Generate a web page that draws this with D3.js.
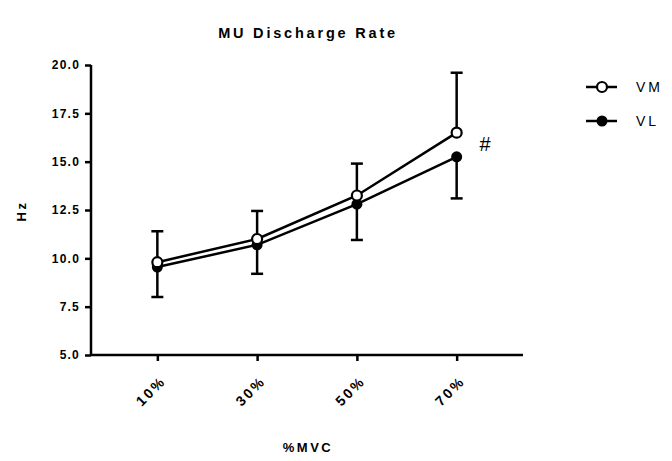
<!DOCTYPE html>
<html>
<head>
<meta charset="utf-8">
<script src="https://cdn.jsdelivr.net/npm/d3@7"></script>
<style>
  body { margin: 0; background: #fff; }
  text { font-family: "Liberation Sans", Arial, sans-serif; }
</style>
</head>
<body>
<script>
const categories = ["10%", "30%", "50%", "70%"];
const vmMean = [9.8, 11.0, 13.25, 16.5];
const vmUpper = [11.4, 12.45, 14.9, 19.6];
const vlMean = [9.55, 10.7, 12.8, 15.25];
const vlLower = [8.0, 9.2, 10.95, 13.1];
const yTicks = [5, 7.5, 10, 12.5, 15, 17.5, 20];

let width = 672, height = 461;

const svg = d3.select("body").append("svg")
    .attr("width", width)
    .attr("height", height);

const x = d3.scalePoint()
    .domain(categories)
    .range([91, 523])
    .padding(0.665);

const y = d3.scaleLinear()
    .domain([5, 20])
    .range([355, 65]);

// axes
const yAxis = d3.axisLeft(y).tickValues(yTicks).tickFormat(d3.format(".1f")).tickSize(6).tickSizeOuter(0);
const xAxis = d3.axisBottom(x).tickSize(6).tickSizeOuter(0);

const gy = svg.append("g")
    .attr("transform", "translate(91,0)")
    .call(yAxis);
gy.select(".domain").attr("stroke-width", 2.5).attr("d", "M0," + y(5) + "V" + y(20));
gy.selectAll(".tick line").attr("stroke-width", 2.5);
gy.selectAll(".tick text")
    .attr("x", -11)
    .attr("font-size", "12px")
    .attr("font-weight", "bold")
    .attr("letter-spacing", "1.2px")
    .attr("fill", "#000");

const gx = svg.append("g")
    .attr("transform", "translate(0,355)")
    .call(xAxis);
gx.select(".domain").attr("stroke-width", 2.5).attr("d", "M91,0H523");
gx.selectAll(".tick line").attr("stroke-width", 2.5);
gx.selectAll(".tick text")
    .attr("font-size", "14px")
    .attr("font-weight", "bold")
    .attr("letter-spacing", "2.5px")
    .attr("fill", "#000")
    .attr("text-anchor", "end")
    .attr("dy", null)
    .attr("y", null)
    .attr("transform", "translate(9,27) rotate(-45)");

// error bars: VM up, VL down
const capW = 6;
function errBar(cat, from, to) {
    const cx = x(cat);
    svg.append("line").attr("x1", cx).attr("x2", cx).attr("y1", y(from)).attr("y2", y(to))
        .attr("stroke", "#000").attr("stroke-width", 2.5);
    svg.append("line").attr("x1", cx - capW).attr("x2", cx + capW).attr("y1", y(to)).attr("y2", y(to))
        .attr("stroke", "#000").attr("stroke-width", 2.5);
}
categories.forEach((c, i) => {
    errBar(c, vmMean[i], vmUpper[i]);
    errBar(c, vlMean[i], vlLower[i]);
});

const line = d3.line().x(d => x(d[0])).y(d => y(d[1]));

const vl = categories.map((c, i) => [c, vlMean[i]]);
const vm = categories.map((c, i) => [c, vmMean[i]]);

svg.append("path").datum(vl).attr("d", line)
    .attr("fill", "none").attr("stroke", "#000").attr("stroke-width", 2.5);
svg.append("path").datum(vm).attr("d", line)
    .attr("fill", "none").attr("stroke", "#000").attr("stroke-width", 2.5);

svg.selectAll(".vl").data(vl).enter().append("circle")
    .attr("cx", d => x(d[0])).attr("cy", d => y(d[1])).attr("r", 5.5)
    .attr("fill", "#000");
svg.selectAll(".vm").data(vm).enter().append("circle")
    .attr("cx", d => x(d[0])).attr("cy", d => y(d[1])).attr("r", 5)
    .attr("fill", "#fff").attr("stroke", "#000").attr("stroke-width", 2.2);

// significance marker
svg.append("text")
    .attr("x", 485).attr("y", 151)
    .attr("text-anchor", "middle")
    .attr("font-size", "20px")
    .text("#");

// titles
svg.append("text")
    .attr("x", 308).attr("y", 38)
    .attr("text-anchor", "middle")
    .attr("font-size", "14.5px")
    .attr("font-weight", "bold")
    .attr("letter-spacing", "2.8px")
    .text("MU Discharge Rate");

svg.append("text")
    .attr("x", 308).attr("y", 452)
    .attr("text-anchor", "middle")
    .attr("font-size", "13px")
    .attr("font-weight", "bold")
    .attr("letter-spacing", "2.5px")
    .text("%MVC");

svg.append("text")
    .attr("transform", "translate(26,211) rotate(-90)")
    .attr("text-anchor", "middle")
    .attr("font-size", "13px")
    .attr("font-weight", "bold")
    .attr("letter-spacing", "2.5px")
    .text("Hz");

// legend
const legend = [{name: "VM", open: true, y: 87}, {name: "VL", open: false, y: 121}];
legend.forEach(l => {
    svg.append("line").attr("x1", 586).attr("x2", 617).attr("y1", l.y).attr("y2", l.y)
        .attr("stroke", "#000").attr("stroke-width", 2.5);
    svg.append("circle").attr("cx", 602).attr("cy", l.y).attr("r", l.open ? 5 : 5.5)
        .attr("fill", l.open ? "#fff" : "#000")
        .attr("stroke", l.open ? "#000" : "none").attr("stroke-width", 2.2);
    svg.append("text").attr("x", 636).attr("y", l.y + 5)
        .attr("font-size", "14px")
        .attr("letter-spacing", "3px")
        .text(l.name);
});
</script>
</body>
</html>
